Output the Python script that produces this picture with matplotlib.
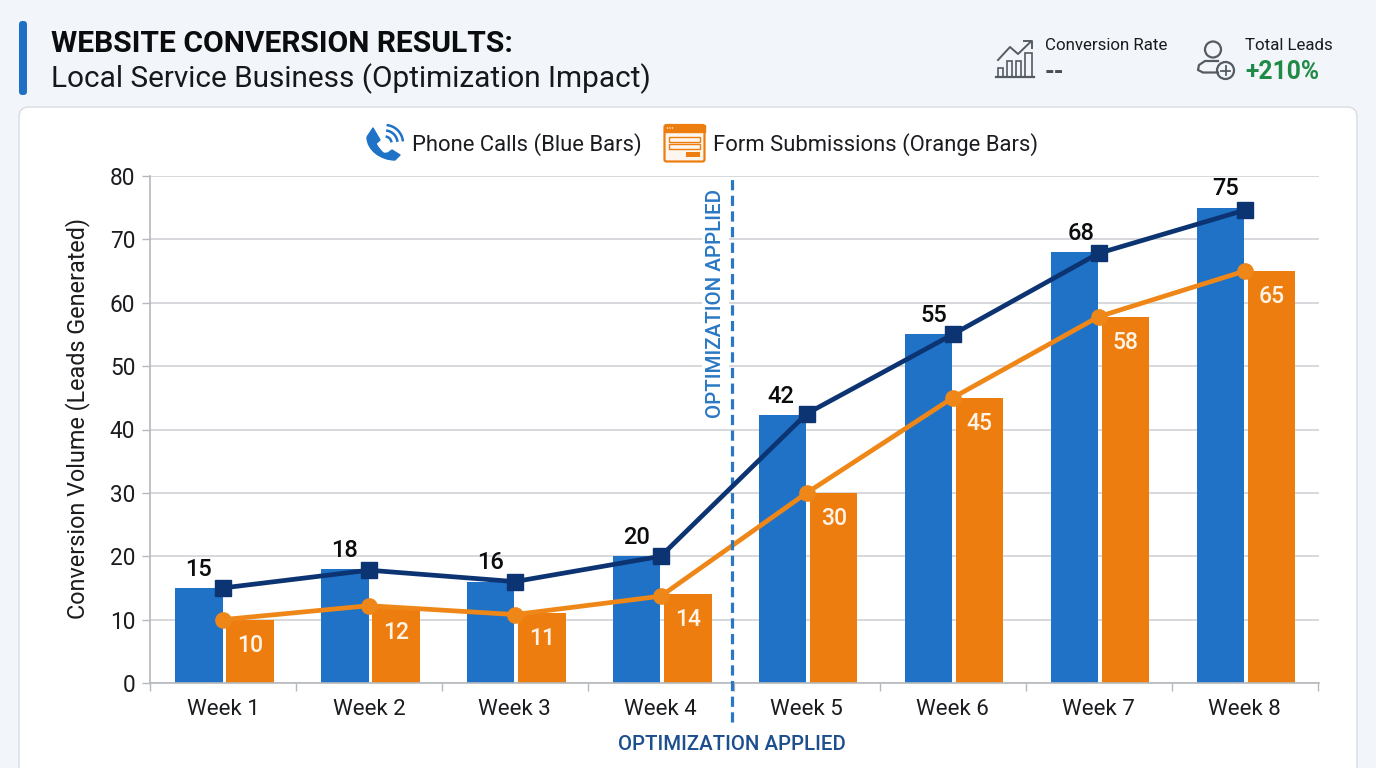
import numpy as np
import matplotlib
matplotlib.use("Agg")
import matplotlib.pyplot as plt
import matplotlib.patches as mpatches
from matplotlib.patches import FancyBboxPatch, Circle, Rectangle, Arc
from matplotlib.path import Path

plt.rcParams["font.family"] = ["Roboto", "DejaVu Sans"]

weeks = ["Week 1", "Week 2", "Week 3", "Week 4", "Week 5", "Week 6", "Week 7", "Week 8"]
phone_bars = [15, 18, 16, 20, 42.3, 55, 68, 75]
form_bars = [10, 12, 11, 14, 30, 45, 57.8, 65]
phone_line = [15, 17.8, 16, 20, 42.5, 55, 67.8, 74.6]
form_line = [10, 12.2, 10.8, 13.7, 30, 45, 57.8, 65]
phone_labels = [15, 18, 16, 20, 42, 55, 68, 75]
form_labels = [10, 12, 11, 14, 30, 45, 58, 65]
y_ticks = [0, 10, 20, 30, 40, 50, 60, 70, 80]

BLUE = "#1f72c6"
ORANGE = "#ee7d10"
NAVY = "#0d3472"
LINE_ORANGE = "#ef8718"
ICON = "#555b63"
INK = "#1a1c1f"

W, H = 1376, 768
fig = plt.figure(figsize=(W / 100, H / 100), dpi=100, facecolor="#f2f5f9")

# page layer in pixel coordinates, for the header, card and icons
bg = fig.add_axes([0, 0, 1, 1], zorder=0)
bg.set_xlim(0, W)
bg.set_ylim(H, 0)
bg.axis("off")

bg.add_patch(FancyBboxPatch((19, 107), 1338, 700, boxstyle="round,pad=0,rounding_size=10",
                            fc="white", ec="#dde1e6", lw=1.2, clip_on=True))
bg.add_patch(FancyBboxPatch((19, 21), 8, 74, boxstyle="round,pad=0,rounding_size=3.5",
                            fc="#1f6fc4", ec="none"))

bg.text(51, 44, "WEBSITE CONVERSION RESULTS:", fontsize=21.6, fontweight="bold",
        color="#0b0c0e", va="center", ha="left")
bg.text(51, 79, "Local Service Business (Optimization Impact)", fontsize=21.4,
        color="#16181b", va="center", ha="left")

# KPI block
bg.text(1045, 45.5, "Conversion Rate", fontsize=12.2, color=INK, va="center")
bg.text(1045, 72, "--", fontsize=18, fontweight="bold", color="#4a4f55", va="center")
bg.text(1245, 45.5, "Total Leads", fontsize=12.2, color=INK, va="center")
bg.text(1245, 72, "+210%", fontsize=17.7, fontweight="bold", color="#1f8a46", va="center")

# chart icon
bg.plot([996, 1034], [77, 77], color=ICON, lw=1.6)
for x0, x1, top in [(997.5, 1003, 68), (1006.5, 1012, 61), (1015.5, 1021, 61), (1025, 1032, 53)]:
    bg.add_patch(Rectangle((x0, top), x1 - x0, 77 - top, fc="none", ec=ICON, lw=1.2))
bg.plot([998, 1010, 1018, 1031], [60, 47, 54, 41.5], color=ICON, lw=1.4)
bg.plot([1024, 1031.5, 1031.5], [41, 41, 48], color=ICON, lw=1.4)

# person icon
bg.add_patch(Circle((1213, 49.5), 8, fc="none", ec=ICON, lw=1.6))
bg.plot([1218, 1205, 1199, 1198, 1203, 1218], [61, 61, 65, 70, 72.5, 72.5], color=ICON, lw=1.6)
bg.add_patch(Circle((1225.5, 70.5), 8.5, fc="#f2f5f9", ec=ICON, lw=1.6))
bg.plot([1221, 1230], [70.5, 70.5], color=ICON, lw=1.3)
bg.plot([1225.5, 1225.5], [66, 75], color=ICON, lw=1.3)

# phone icon
handset = Path(
    [(367, 137), (373, 128), (380, 140), (376, 143.5), (378.5, 149.5), (384, 153.5), (388, 153),
     (392, 150), (400, 155), (395, 160), (381, 160), (367, 150), (367, 137)],
    [Path.MOVETO, Path.LINETO, Path.LINETO, Path.LINETO, Path.CURVE3, Path.CURVE3, Path.LINETO,
     Path.LINETO, Path.LINETO, Path.LINETO, Path.CURVE4, Path.CURVE4, Path.CURVE4],
)
bg.add_patch(mpatches.PathPatch(handset, fc=BLUE, ec=BLUE, lw=1, joinstyle="round"))
for d in [13, 25, 36]:
    bg.add_patch(Arc((385, 143), d, d, theta1=-85, theta2=-5, ec=BLUE, lw=1.8))

# form icon
bg.add_patch(FancyBboxPatch((664.5, 125), 40, 36.5, boxstyle="round,pad=0,rounding_size=2",
                            fc="#fdf6ee", ec=ORANGE, lw=1.6))
bg.add_patch(Rectangle((664.5, 125), 40, 6.5, fc=ORANGE, ec=ORANGE, lw=1))
bg.add_patch(Rectangle((669, 137), 31, 4.5, fc="none", ec=ORANGE, lw=1))
bg.add_patch(Rectangle((669, 144), 31, 4.5, fc="none", ec=ORANGE, lw=1))
bg.add_patch(Rectangle((686, 152), 13.5, 5, fc=ORANGE, ec="none"))
for dot_x in [667.5, 670, 672.5]:
    bg.add_patch(Circle((dot_x, 128), 0.7, fc="white", ec="none"))

bg.text(412, 144.5, "Phone Calls (Blue Bars)", fontsize=15.8, color=INK, va="center")
bg.text(713, 144.5, "Form Submissions (Orange Bars)", fontsize=15.8, color=INK, va="center")

# main chart
ax = fig.add_axes([150 / W, (H - 683) / H, 1169 / W, 507 / H], zorder=1)
ax.patch.set_alpha(0)
x = np.arange(len(weeks))
ax.set_xlim(-0.5, 7.51)
ax.set_ylim(0, 80)

ax.grid(axis="y", color="#cfd2d6", lw=1.2)
ax.set_axisbelow(True)

ax.bar(x - 0.165, phone_bars, width=0.325, color=BLUE, zorder=2)
ax.bar(x + 0.185, form_bars, width=0.325, color=ORANGE, zorder=2)

ax.plot(x, phone_line, color=NAVY, lw=3.4, marker="s", ms=11, zorder=4)
ax.plot(x, form_line, color=LINE_ORANGE, lw=3.4, marker="o", ms=11, zorder=3)

# the top labels drift right of their bars from week 6 on
nudge = [0, 0, 0, 0, -1.5, 3.6, 4.6, 3.6]
for i in x:
    ax.annotate(str(phone_labels[i]), (i - 0.165, phone_bars[i]), xytext=(nudge[i], 13.5),
                textcoords="offset points", ha="center", va="center",
                fontsize=17, fontweight="medium", color="#0b0c0e", zorder=5)
    ax.annotate(str(form_labels[i]), (i + 0.185, form_bars[i]), xytext=(0, -18.3),
                textcoords="offset points", ha="center", va="center",
                fontsize=16.5, fontweight="medium", color="#fff4e6", zorder=5)

# optimization marker
ax.plot([3.49, 3.49], [-6.1, 80], color="#2a78c4", lw=2.3, ls=(0, (3.2, 1.7)),
        clip_on=False, zorder=3)
ax.text(3.375, 80 - 2, "OPTIMIZATION APPLIED", rotation=90, ha="center", va="top",
        fontsize=14.8, fontweight="medium", color="#2a78c4", zorder=3,
        bbox=dict(fc="white", ec="none", pad=3))
ax.text(3.49, -9.75, "OPTIMIZATION APPLIED", ha="center", va="center", fontsize=14.7,
        fontweight="medium", color="#1d4f8f", clip_on=False)

ax.set_yticks(y_ticks)
ax.set_xticks(x, weeks)
ax.set_xticks(np.arange(-0.5, 8, 1), minor=True)
ax.tick_params(axis="x", which="major", length=0, pad=11.7, labelsize=16, labelcolor=INK)
ax.tick_params(axis="x", which="minor", length=5.5, width=1, color="#b5b8bc")
ax.tick_params(axis="y", length=5.5, width=1, color="#b5b8bc", pad=5, labelsize=16.3,
               labelcolor=INK)
ax.set_ylabel("Conversion Volume (Leads Generated)", fontsize=16.8, color=INK)
ax.yaxis.set_label_coords(-0.0513, 0.521)

for side in ["top", "right"]:
    ax.spines[side].set_visible(False)
for side in ["left", "bottom"]:
    ax.spines[side].set_color("#b5b8bc")
    ax.spines[side].set_linewidth(1.2)

fig.savefig("out.png", dpi=100, facecolor=fig.get_facecolor())
plt.close(fig)
